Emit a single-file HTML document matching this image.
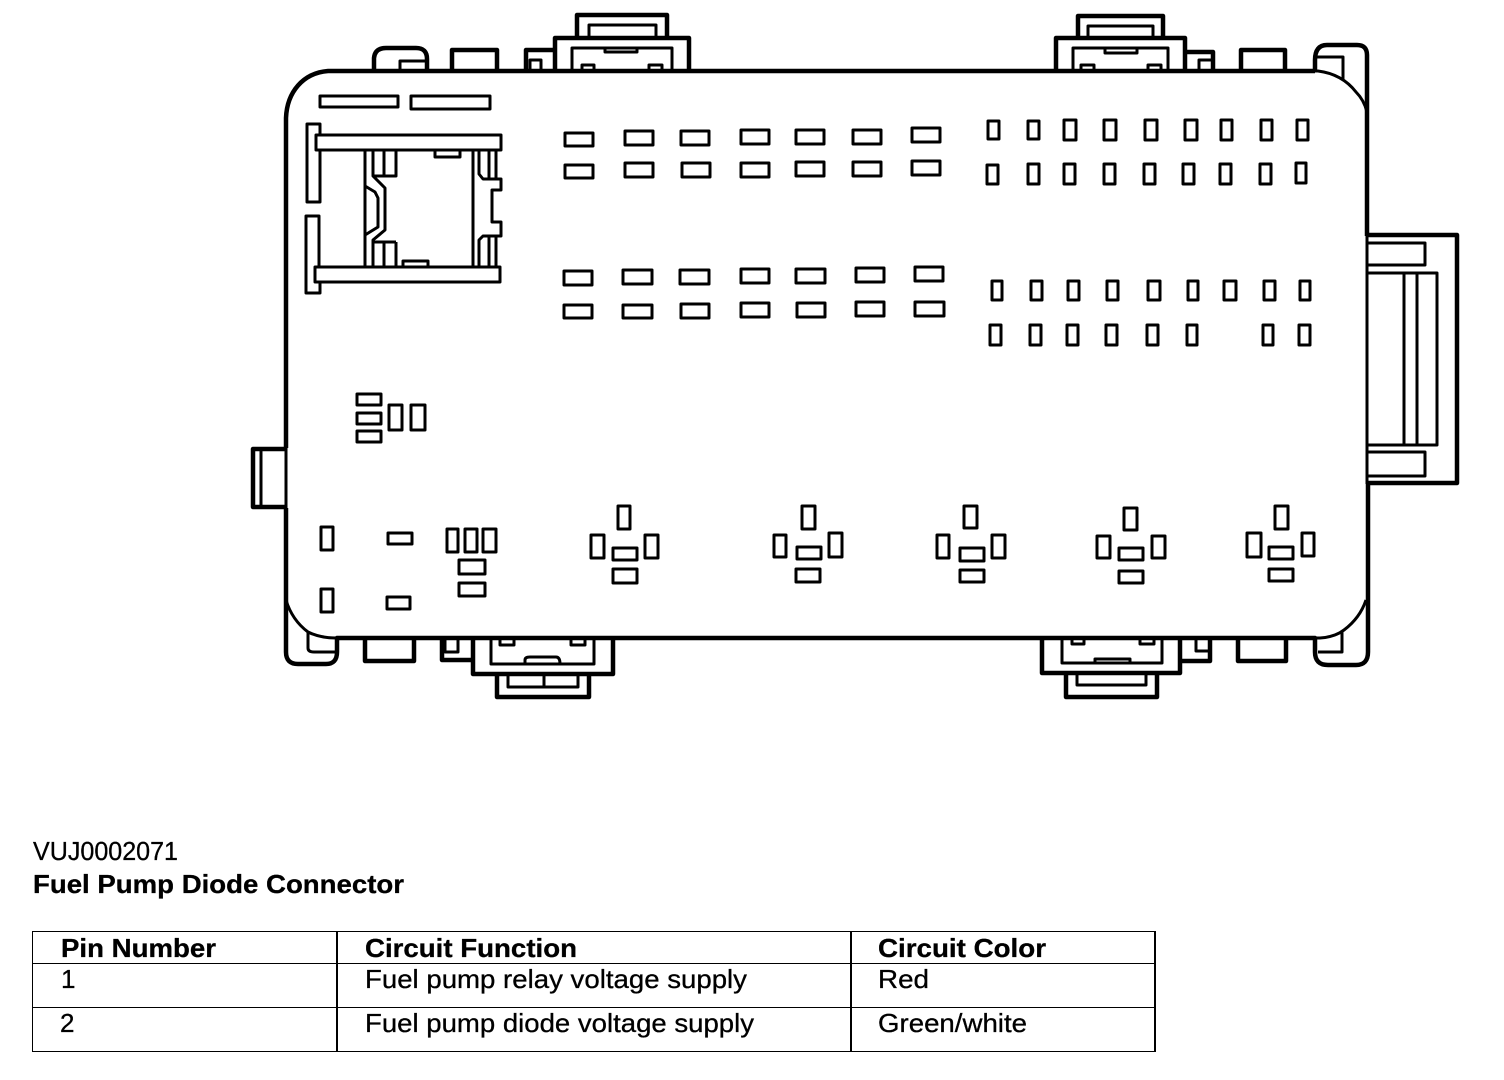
<!DOCTYPE html>
<html><head><meta charset="utf-8"><title>Fuel Pump Diode Connector</title>
<style>
html,body{margin:0;padding:0;background:#fff}
svg{display:block}
text{font-family:"Liberation Sans",Arial,sans-serif;font-size:26px;fill:#000;stroke:#000;stroke-width:.3px}
.b{font-weight:bold}
</style></head><body>
<svg width="1504" height="1080" viewBox="0 0 1504 1080" xmlns="http://www.w3.org/2000/svg">
<rect width="1504" height="1080" fill="#fff"/>
<g fill="none" stroke="#000" stroke-linejoin="round">
<!-- main body -->
<g stroke-width="4.5">
<path d="M1315 71H328C303 73 287 92 286 118V448M286 508V600"/>
<path d="M286 600V652Q286 664 298 664H326Q337 664 337 652V638H1315V652Q1315 665 1328 665H1356Q1368 665 1368 652V484"/>
<path d="M1367 236V55Q1367 45 1357 45H1327Q1315 45 1315 60V71"/>
<path d="M374 71V58Q375 48 386 48H416Q427 48 427 59V71"/>
<path d="M452 71V50H497V71M1241 71V50H1285V71M526 71V50H555M1185 52H1213V71"/>
<path d="M555 71V38H689V71M577 38V15H667V38M1056 71V38H1185V71M1078 38V16H1163V38"/>
<path d="M365 638V661H414V638M442 638V660H473M473 638V674H613V638M497 674V697H589V674M1042 638V673H1180V638M1066 673V697H1157V673M1180 661H1210V638M1238 638V661H1286V638"/>
<path d="M286 449H253V507H286"/>
<path d="M1367 235H1457V483H1367"/>
</g>
<g stroke-width="3">
<path d="M1367 236V484M286 448V508"/>
<path d="M261 449V507"/>
<path d="M1312 71H1318Q1342 74 1356 92Q1364 100 1367 112M286 600Q292 620 308 632Q320 638 336 638M1366 600Q1360 618 1344 630Q1335 637 1320 638H1312"/>
<path d="M400 71V61H427M530 71V60H541V71M1199 71V60H1213M1317 57H1343V79M308 632V648Q308 652 314 652H336M445 638V652H458V638M1196 638V651H1209"/>
<path d="M1318 652H1342V632"/>
<path d="M589 38V25H656V38M572 71V48H672V71M605 48V52H637V48M582 71V65H594V71M649 71V65H662V71"/>
<path d="M1088 38V26H1153V38M1073 71V48H1168V71M1105 48V53H1137V48M1081 71V65H1094V71M1148 71V65H1161V71"/>
<path d="M491 638V664H594V638M525 664V660Q525 657 530 657H556Q560 657 560 664M500 638V645H514V638M571 638V645H585V638M508 674V687H578V674M544 674V687"/>
<path d="M1062 638V663H1162V638M1095 663V659H1130V663M1072 638V644H1084V638M1140 638V644H1154V638M1077 673V685H1146V673"/>
<path d="M1368 243H1425V265H1368M1368 273H1437V445H1368M1368 452H1425V476H1368"/>
<path d="M1404 273V445M1417 273V445"/>
<!-- fuse cavity top-left -->
<path d="M320 96H398V107H320ZM411 96H490V109H411Z"/>
<path d="M307 135V124H320V135M307 124V202H320V150M320 282V293H306V216H319V267"/>
<path d="M316 135H501V150H316ZM315 267H500V282H315Z"/>
<path d="M365 150V267M373 150V176L385 188V230L373 240V267M365 186L375 192L378 198V227L365 235M384 150V176M396 150V176H373M384 242V267M396 242V267M373 242H396"/>
<path d="M473 150V267M479 150V174L483 179H501V190H492V222H501V236H483L479 240V267M489 150V179M496 150V179M489 236V267M496 236V267"/>
<path d="M435 150V157H460V150M403 267V261H428V267"/>
<!-- horizontal fuse slots -->
<path d="M565 133H593V146H565ZM625 131H653V145H625ZM681 131H709V145H681ZM741 130H769V144H741ZM796 130H824V144H796ZM853 130H881V144H853ZM912 128H940V142H912Z"/>
<path d="M565 165H593V178H565ZM625 163H653V177H625ZM682 163H710V177H682ZM741 163H769V177H741ZM796 162H824V176H796ZM853 162H881V176H853ZM912 161H940V175H912Z"/>
<path d="M564 271H592V285H564ZM623 270H652V284H623ZM680 270H709V284H680ZM741 269H769V283H741ZM796 269H825V283H796ZM856 268H884V282H856ZM915 267H943V281H915Z"/>
<path d="M564 305H592V318H564ZM623 305H652V318H623ZM681 304H709V318H681ZM741 303H769V317H741ZM797 303H825V317H797ZM856 302H884V316H856ZM915 302H944V316H915Z"/>
<!-- vertical pins -->
<path d="M988 121H999V139H988ZM1028 121H1039V139H1028ZM1064 120H1076V140H1064ZM1104 120H1116V140H1104ZM1145 120H1157V140H1145ZM1185 120H1197V140H1185ZM1221 120H1232V140H1221ZM1261 120H1272V140H1261ZM1297 120H1308V140H1297Z"/>
<path d="M987 165H998V184H987ZM1028 164H1039V184H1028ZM1064 164H1075V184H1064ZM1104 164H1115V184H1104ZM1144 164H1155V184H1144ZM1183 164H1194V184H1183ZM1220 164H1231V184H1220ZM1260 164H1271V184H1260ZM1296 163H1306V183H1296Z"/>
<path d="M992 281H1002V300H992ZM1031 281H1042V300H1031ZM1068 281H1079V300H1068ZM1107 281H1118V300H1107ZM1148 281H1160V300H1148ZM1188 281H1198V300H1188ZM1224 281H1236V300H1224ZM1264 281H1275V300H1264ZM1300 281H1310V300H1300Z"/>
<path d="M990 325H1001V345H990ZM1030 325H1041V345H1030ZM1067 325H1078V345H1067ZM1106 325H1117V345H1106ZM1147 325H1158V345H1147ZM1187 325H1197V345H1187ZM1263 325H1273V345H1263ZM1299 325H1310V345H1299Z"/>
<!-- left small -->
<path d="M357 394H381V405H357ZM357 413H381V424H357ZM357 431H381V442H357ZM389 405H402V430H389ZM411 405H425V430H411Z"/>
<path d="M321 527H333V550H321ZM321 589H333V612H321ZM388 533H412V544H388ZM387 597H410V609H387ZM447 529H458V552H447ZM465 529H477V552H465ZM483 529H496V552H483ZM459 560H485V574H459ZM459 583H485V596H459Z"/>
<!-- relay groups -->
<path d="M618 506H630V529H618ZM591 535H604V558H591ZM645 535H658V558H645ZM613 548H637V560H613ZM613 569H637V583H613Z"/>
<path d="M802 506H815V529H802ZM774 535H786V557H774ZM829 533H842V557H829ZM797 547H821V559H797ZM796 569H820V582H796Z"/>
<path d="M964 506H977V528H964ZM937 535H949V558H937ZM992 535H1005V558H992ZM960 548H984V561H960ZM960 570H984V582H960Z"/>
<path d="M1124 508H1137V530H1124ZM1097 536H1110V558H1097ZM1152 536H1165V558H1152ZM1119 548H1143V560H1119ZM1119 571H1143V583H1119Z"/>
<path d="M1275 506H1288V529H1275ZM1247 533H1261V557H1247ZM1302 533H1314V556H1302ZM1269 547H1293V559H1269ZM1269 569H1293V581H1269Z"/>
</g>
<!-- table -->
<g shape-rendering="crispEdges">
<path stroke-width="1" d="M32 931.5H1156M32 963.5H1156M32 1007.5H1156M32 1051.5H1156M32.5 931V1052"/>
<path stroke-width="2" d="M337 931V1052M851 931V1052M1155 931V1052"/>
</g>
</g>
<text x="33" y="860" textLength="145" lengthAdjust="spacingAndGlyphs">VUJ0002071</text>
<text class="b" x="33" y="893" textLength="371" lengthAdjust="spacingAndGlyphs">Fuel Pump Diode Connector</text>
<text class="b" x="61" y="957" textLength="155" lengthAdjust="spacingAndGlyphs">Pin Number</text>
<text class="b" x="365" y="957" textLength="212" lengthAdjust="spacingAndGlyphs">Circuit Function</text>
<text class="b" x="878" y="957" textLength="168" lengthAdjust="spacingAndGlyphs">Circuit Color</text>
<text x="61" y="988">1</text>
<text x="365" y="988" textLength="382" lengthAdjust="spacingAndGlyphs">Fuel pump relay voltage supply</text>
<text x="878" y="988" textLength="51" lengthAdjust="spacingAndGlyphs">Red</text>
<text x="60" y="1032">2</text>
<text x="365" y="1032" textLength="389" lengthAdjust="spacingAndGlyphs">Fuel pump diode voltage supply</text>
<text x="878" y="1032" textLength="149" lengthAdjust="spacingAndGlyphs">Green/white</text>
</svg>
</body></html>
